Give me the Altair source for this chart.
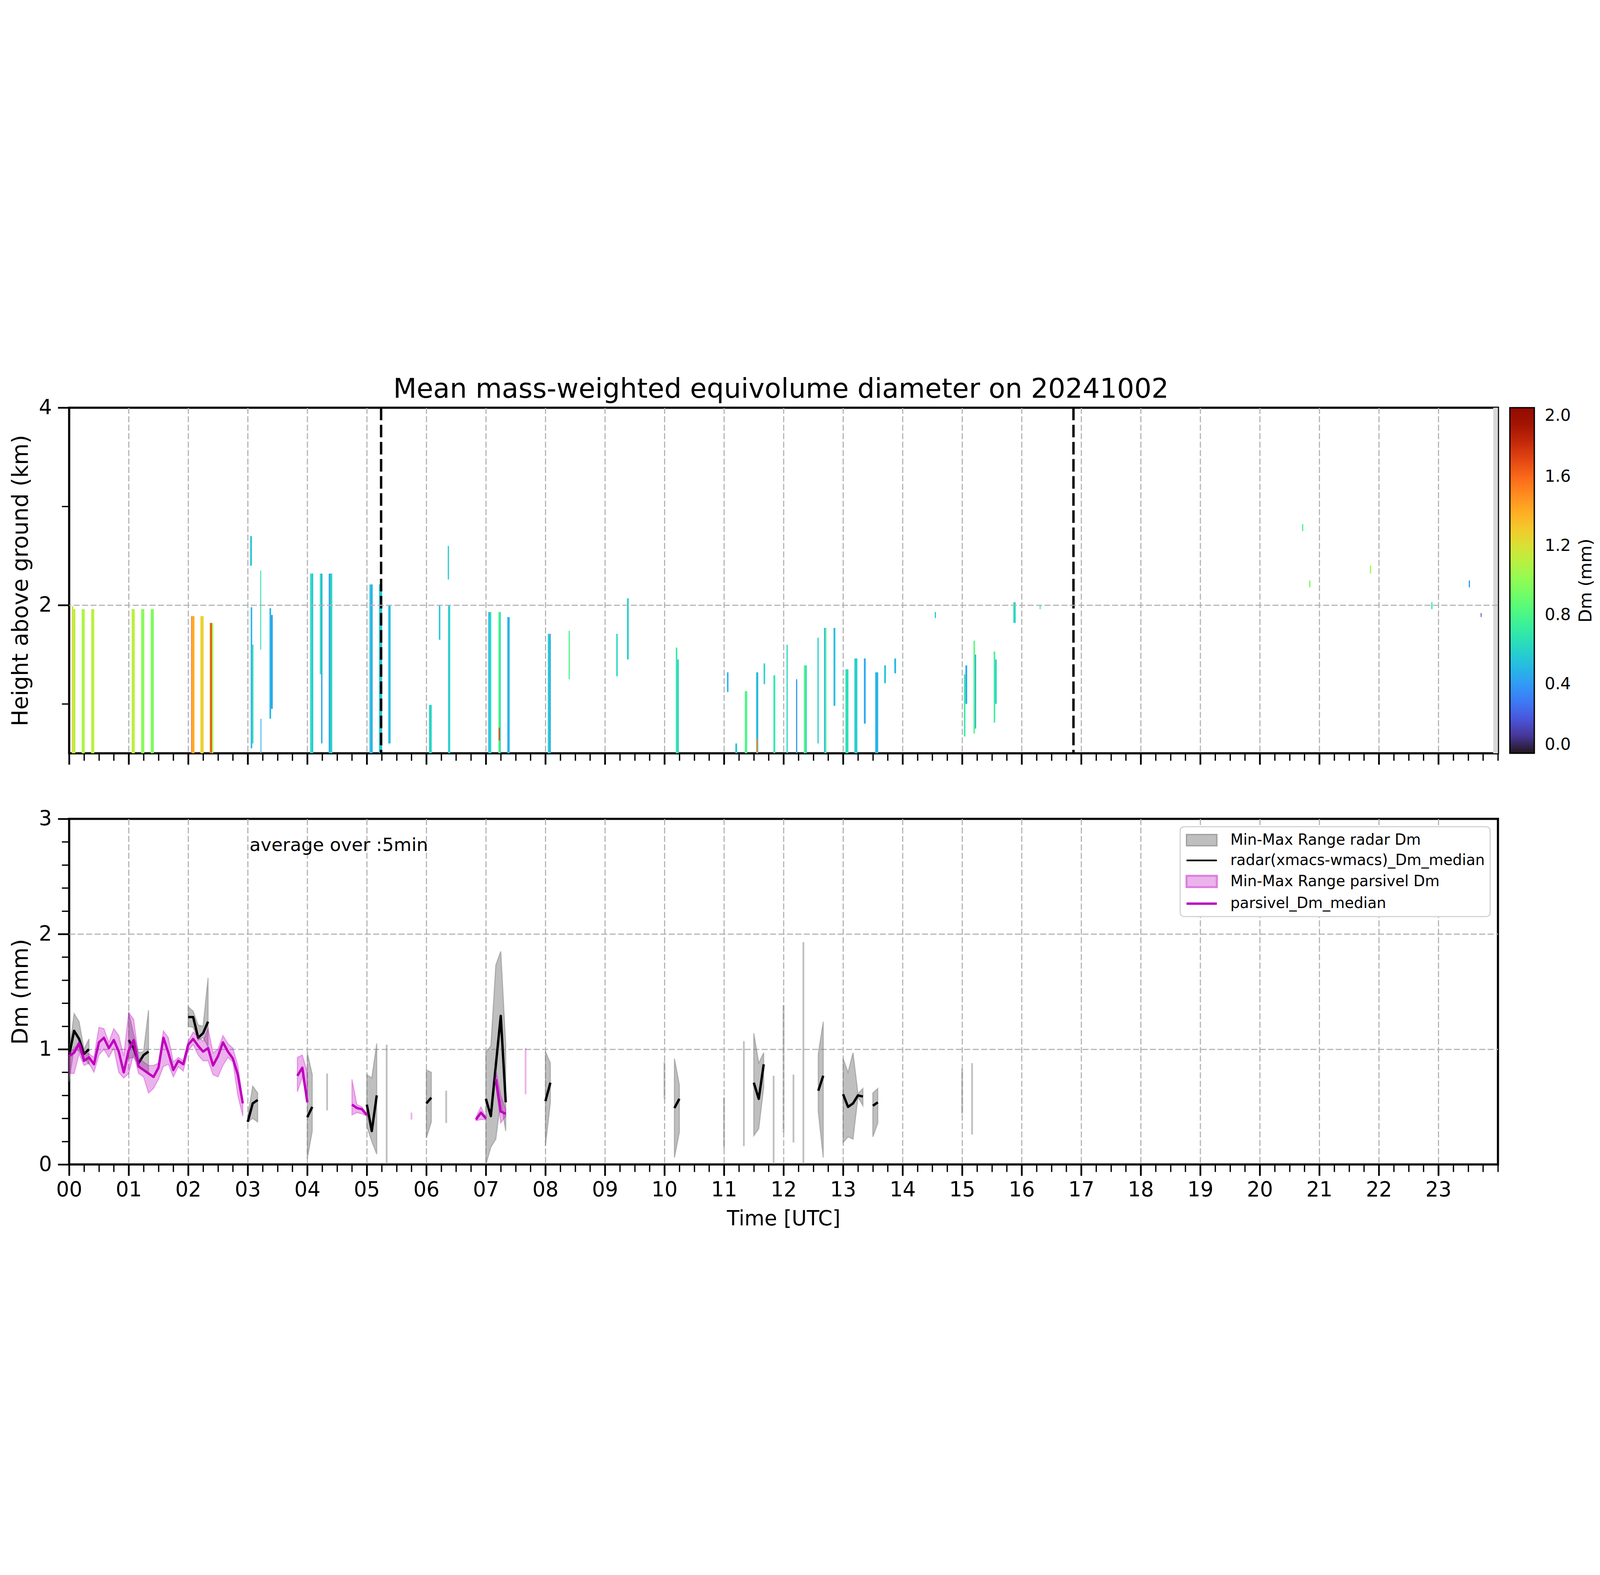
import altair as alt
import pandas as pd

FONT = "DejaVu Sans"
TITLE = "Mean mass-weighted equivolume diameter on 20241002"

# ---------------- axes / ticks ----------------
hour_ticks = list(range(24))
hour_grid = list(range(1, 24))
hour_labels = ["00", "01", "02", "03", "04", "05", "06", "07", "08", "09", "10", "11",
               "12", "13", "14", "15", "16", "17", "18", "19", "20", "21", "22", "23"]
quarter_ticks = [i * 0.25 for i in range(97)]
top_major = [2, 4]
top_minor = [1, 3]
top_grid = [2]
bot_major = [0, 1, 2, 3]
bot_minor = [0.2, 0.4, 0.6, 0.8, 1.2, 1.4, 1.6, 1.8, 2.2, 2.4, 2.6, 2.8]
bot_grid = [1, 2]
cbar_ticks = [0.0, 0.4, 0.8, 1.2, 1.6, 2.0]
cbar_title = "Dm (mm)"

# ---------------- top panel: radar Dm columns (start h, end h, bottom km, top km, Dm mm) ----------------
cols_00_02 = [
    (0.045, 0.070, 0.50, 1.99, 1.22), (0.070, 0.105, 0.50, 1.96, 1.10),
    (0.210, 0.262, 0.50, 1.96, 1.08), (0.370, 0.422, 0.50, 1.96, 1.12),
    (1.050, 1.102, 0.50, 1.96, 1.12), (1.210, 1.262, 0.50, 1.96, 0.98),
    (1.370, 1.422, 0.50, 1.96, 0.95),
    (2.050, 2.064, 0.50, 1.89, 1.62), (2.064, 2.105, 0.50, 1.89, 1.40),
    (2.205, 2.258, 0.50, 1.89, 1.27), (2.360, 2.375, 0.50, 1.82, 1.45),
    (2.375, 2.395, 0.50, 1.82, 1.72), (2.395, 2.420, 0.50, 1.82, 1.05),
]
cols_03_06 = [
    (3.040, 3.070, 2.40, 2.70, 0.55), (3.050, 3.075, 0.55, 1.98, 0.48),
    (3.075, 3.095, 0.60, 1.60, 0.62), (3.210, 3.225, 1.55, 2.35, 0.65),
    (3.215, 3.228, 0.50, 0.85, 0.45), (3.365, 3.392, 0.85, 1.97, 0.50),
    (3.392, 3.420, 0.95, 1.90, 0.42),
    (4.048, 4.070, 0.50, 2.32, 0.65), (4.070, 4.100, 0.50, 2.32, 0.55),
    (4.210, 4.232, 1.30, 2.32, 0.70), (4.232, 4.255, 0.60, 2.32, 0.45),
    (4.360, 4.390, 0.50, 2.32, 0.45), (4.390, 4.420, 0.50, 2.32, 0.62),
    (5.045, 5.070, 0.50, 2.21, 0.55), (5.070, 5.098, 0.50, 2.21, 0.45),
    (5.205, 5.258, 0.50, 2.21, 0.55), (5.360, 5.400, 0.60, 2.00, 0.52),
    (6.045, 6.090, 0.50, 0.99, 0.60), (6.210, 6.235, 1.65, 2.00, 0.55),
    (6.360, 6.380, 2.26, 2.60, 0.55), (6.365, 6.400, 0.50, 2.00, 0.58),
]
cols_07_10 = [
    (7.040, 7.065, 0.50, 1.93, 0.50), (7.065, 7.090, 0.50, 1.93, 0.62),
    (7.210, 7.230, 0.50, 1.93, 0.85), (7.230, 7.250, 0.50, 1.93, 0.62),
    (7.215, 7.235, 0.63, 0.76, 1.70), (7.360, 7.400, 0.50, 1.88, 0.48),
    (8.040, 8.065, 0.50, 1.71, 0.58), (8.065, 8.090, 0.50, 1.71, 0.45),
    (8.390, 8.410, 1.25, 1.74, 0.80),
    (9.190, 9.215, 1.28, 1.71, 0.62), (9.370, 9.400, 1.45, 2.07, 0.60),
    (10.190, 10.215, 0.50, 1.57, 0.72), (10.215, 10.240, 0.50, 1.45, 0.58),
]
cols_11_13 = [
    (11.050, 11.075, 1.12, 1.32, 0.48), (11.190, 11.220, 0.50, 0.60, 0.55),
    (11.350, 11.390, 0.50, 1.13, 0.80), (11.540, 11.575, 0.50, 1.32, 0.50),
    (11.545, 11.565, 0.50, 0.65, 1.50), (11.665, 11.690, 1.20, 1.41, 0.60),
    (11.830, 11.860, 0.50, 1.29, 0.70),
    (12.050, 12.070, 0.50, 1.60, 0.62), (12.210, 12.230, 0.50, 1.25, 0.40),
    (12.340, 12.365, 0.50, 1.39, 0.85), (12.365, 12.390, 0.50, 1.39, 0.60),
    (12.570, 12.590, 0.60, 1.67, 0.58), (12.680, 12.700, 0.50, 1.77, 0.45),
    (12.700, 12.720, 0.50, 1.77, 0.80), (12.840, 12.870, 0.98, 1.77, 0.52),
    (13.040, 13.090, 0.50, 1.35, 0.65), (13.190, 13.240, 0.50, 1.46, 0.58),
    (13.350, 13.380, 0.80, 1.46, 0.45), (13.540, 13.590, 0.50, 1.32, 0.48),
    (13.690, 13.720, 1.21, 1.39, 0.55), (13.860, 13.890, 1.31, 1.46, 0.50),
]
cols_14_24 = [
    (14.540, 14.560, 1.87, 1.93, 0.55),
    (15.030, 15.055, 0.67, 1.30, 0.72), (15.055, 15.085, 1.00, 1.39, 0.45),
    (15.190, 15.215, 0.70, 1.64, 0.85), (15.215, 15.235, 0.75, 1.50, 0.45),
    (15.530, 15.555, 0.81, 1.53, 0.75), (15.555, 15.580, 1.00, 1.45, 0.55),
    (15.860, 15.900, 1.82, 2.03, 0.62), (16.300, 16.320, 1.96, 2.00, 0.80),
    (20.710, 20.730, 2.75, 2.82, 0.78), (20.830, 20.850, 2.18, 2.25, 0.95),
    (21.850, 21.870, 2.32, 2.40, 1.05), (22.880, 22.900, 1.96, 2.03, 0.70),
    (23.510, 23.530, 2.18, 2.25, 0.40), (23.710, 23.725, 1.88, 1.92, 0.20),
]
nodata_strip = [(23.92, 24.0, 0.5, 4.0)]
marker_times = [5.24, 16.87]

# ---------------- bottom panel: 5-min radar Dm (minute, median, min, max) ----------------
radar_0000 = [(0, 0.95, 0.72, 0.98), (5, 1.16, 1.02, 1.31), (10, 1.09, 0.98, 1.24), (15, 0.96, 0.93, 1.00), (20, 1.00, 0.87, 1.09)]
radar_0100 = [(60, 1.08, 0.92, 1.32), (65, 1.01, 0.93, 1.13), (70, 0.88, 0.87, 0.97), (75, 0.95, 0.82, 0.98), (80, 0.98, 0.80, 1.34)]
radar_0200 = [(120, 1.28, 1.20, 1.37), (125, 1.28, 1.19, 1.33), (130, 1.10, 1.08, 1.21), (135, 1.14, 1.10, 1.20), (140, 1.24, 1.02, 1.62)]
radar_0300 = [(180, 0.37, 0.37, 0.42), (185, 0.53, 0.40, 0.68), (190, 0.56, 0.37, 0.62)]
radar_0400 = [(240, 0.41, 0.05, 0.97), (245, 0.50, 0.29, 0.78)]
radar_0500 = [(300, 0.52, 0.33, 0.78), (305, 0.29, 0.20, 0.75), (310, 0.60, 0.09, 1.05)]
radar_0600 = [(360, 0.53, 0.23, 0.82), (365, 0.58, 0.37, 0.80)]
radar_0700 = [(420, 0.57, 0.00, 0.97), (425, 0.42, 0.15, 1.03), (430, 0.86, 0.22, 1.73), (435, 1.29, 0.56, 1.85), (440, 0.54, 0.29, 1.04)]
radar_0800 = [(480, 0.55, 0.16, 0.98), (485, 0.71, 0.54, 0.88)]
radar_1010 = [(610, 0.49, 0.06, 0.92), (615, 0.57, 0.28, 0.69)]
radar_1130 = [(690, 0.71, 0.25, 1.14), (695, 0.57, 0.31, 0.88), (700, 0.87, 0.67, 0.97)]
radar_1235 = [(755, 0.64, 0.46, 0.96), (760, 0.77, 0.06, 1.24)]
radar_1300 = [(780, 0.61, 0.19, 0.92), (785, 0.50, 0.24, 0.80), (790, 0.53, 0.22, 0.97), (795, 0.60, 0.585, 0.615), (800, 0.59, 0.51, 0.66)]
radar_1330 = [(810, 0.51, 0.24, 0.62), (815, 0.54, 0.36, 0.66)]
radar_single = [(260, 0.47, 0.79), (320, 0.00, 1.04), (380, 0.36, 0.64), (600, 0.57, 0.89),
                (660, 0.14, 0.58), (680, 0.16, 1.07), (710, 0.00, 0.77), (720, 0.28, 1.38),
                (730, 0.19, 0.78), (740, 0.00, 1.93), (900, 0.44, 0.83), (910, 0.26, 0.88)]

# ---------------- bottom panel: 5-min parsivel Dm ----------------
pars_0000_min = [0, 5, 10, 15, 20, 25, 30, 35, 40, 45, 50, 55, 60, 65, 70, 75, 80, 85,
                 90, 95, 100, 105, 110, 115, 120, 125, 130, 135, 140, 145, 150, 155, 160, 165, 170, 175]
pars_0000_med = [0.94, 0.97, 1.05, 0.90, 0.93, 0.87, 1.06, 1.10, 1.01, 1.08, 0.98, 0.80, 0.99, 1.08, 0.85, 0.82, 0.79, 0.76,
                 0.84, 1.10, 0.97, 0.82, 0.90, 0.87, 1.04, 1.09, 1.03, 0.98, 1.01, 0.86, 0.94, 1.06, 0.98, 0.92, 0.78, 0.53]
pars_0000_lo = [0.79, 0.79, 0.96, 0.86, 0.88, 0.80, 0.95, 1.00, 0.93, 1.01, 0.80, 0.75, 0.79, 0.96, 0.79, 0.76, 0.62, 0.66,
                0.74, 0.85, 0.87, 0.76, 0.85, 0.81, 0.99, 1.04, 0.95, 0.90, 0.90, 0.78, 0.76, 0.86, 0.93, 0.89, 0.60, 0.42]
pars_0000_hi = [0.97, 1.00, 1.07, 0.98, 0.96, 0.93, 1.19, 1.18, 1.06, 1.18, 1.12, 0.94, 1.32, 1.26, 0.93, 0.89, 0.86, 0.86,
                0.88, 1.16, 1.10, 0.89, 0.93, 0.90, 1.07, 1.15, 1.11, 1.07, 1.18, 0.97, 1.00, 1.12, 1.05, 1.01, 0.86, 0.55]
pars_0350 = [(230, 0.77, 0.63, 0.93), (235, 0.84, 0.76, 0.95), (240, 0.54, 0.54, 0.80)]
pars_0445 = [(285, 0.52, 0.43, 0.74), (290, 0.49, 0.45, 0.52), (295, 0.48, 0.44, 0.50), (300, 0.43, 0.42, 0.44)]
pars_0650 = [(410, 0.39, 0.38, 0.41), (415, 0.45, 0.39, 0.50), (420, 0.40, 0.39, 0.41)]
pars_0710 = [(430, 0.74, 0.70, 0.82), (435, 0.46, 0.36, 0.60), (440, 0.44, 0.42, 0.48)]
pars_single = [(345, 0.39, 0.45), (460, 0.61, 1.01)]

legend_labels = ["Min-Max Range radar Dm", "radar(xmacs-wmacs)_Dm_median",
                 "Min-Max Range parsivel Dm", "parsivel_Dm_median"]
note_text = "average over :5min"
note_pos = (3.03, 2.72)

# ---------------- build tables ----------------
top_rows = []
for block in (cols_00_02, cols_03_06, cols_07_10, cols_11_13, cols_14_24):
    for t0, t1, h0, h1, dm in block:
        top_rows.append({"t0": t0, "t1": t1, "h0": h0, "h1": h1, "dm": dm})
top_df = pd.DataFrame(top_rows)
strip_df = pd.DataFrame([{"t0": a, "t1": b, "h0": c, "h1": d} for a, b, c, d in nodata_strip])
marker_df = pd.DataFrame({"t": marker_times})

radar_rows = []
for i, seg in enumerate([radar_0000, radar_0100, radar_0200, radar_0300, radar_0400, radar_0500, radar_0600,
                         radar_0700, radar_0800, radar_1010, radar_1130, radar_1235, radar_1300, radar_1330]):
    for m, med, lo, hi in seg:
        radar_rows.append({"t": m / 60, "med": med, "lo": lo, "hi": hi, "seg": f"r{i}"})
radar_df = pd.DataFrame(radar_rows)
radar_single_df = pd.DataFrame([{"t": m / 60, "lo": lo, "hi": hi} for m, lo, hi in radar_single])

pars_rows = [{"t": m / 60, "med": a, "lo": b, "hi": c, "seg": "p0"}
             for m, a, b, c in zip(pars_0000_min, pars_0000_med, pars_0000_lo, pars_0000_hi)]
for i, seg in enumerate([pars_0350, pars_0445, pars_0650, pars_0710]):
    for m, med, lo, hi in seg:
        pars_rows.append({"t": m / 60, "med": med, "lo": lo, "hi": hi, "seg": f"p{i + 1}"})
pars_df = pd.DataFrame(pars_rows)
pars_single_df = pd.DataFrame([{"t": m / 60, "lo": lo, "hi": hi} for m, lo, hi in pars_single])
note_df = pd.DataFrame({"t": [note_pos[0]], "v": [note_pos[1]], "s": [note_text]})
legend_df = pd.DataFrame({"series": legend_labels, "lx": [None] * 4, "ly": [None] * 4})

# ---------------- styling ----------------
W, H = 6600, 1596
GRID = "#b0b0b0"
X_SCALE = alt.Scale(domain=[0, 24], nice=False, zero=False)
YT_SCALE = alt.Scale(domain=[0.5, 4], nice=False, zero=False)
YB_SCALE = alt.Scale(domain=[0, 3], nice=False, zero=False)
label_expr = "[" + ",".join(f"'{s}'" for s in hour_labels) + "][datum.value]"


def x_major(show_labels):
    return alt.Axis(orient="bottom", values=hour_ticks, labels=show_labels, labelExpr=label_expr,
                    labelFontSize=95, labelPadding=20, labelFlush=False, labelOverlap=False,
                    tickSize=52, tickWidth=8, grid=False, domain=False, titleFontSize=95,
                    titlePadding=40, titleFontWeight="normal")


x_minor = alt.Axis(orient="bottom", values=quarter_ticks, labels=False, tickSize=34, tickWidth=6,
                   grid=False, domain=False, title=None)


def x_grid(z):
    return alt.Axis(orient="bottom", values=hour_grid, labels=False, ticks=False, domain=False,
                    grid=True, gridColor=GRID, gridDash=[28, 11], gridWidth=5, title=None, zindex=z)


def y_major(vals):
    return alt.Axis(orient="left", values=vals, labelFontSize=95, labelPadding=28, labelFlush=False,
                    tickSize=52, tickWidth=8, grid=False, domain=False, titleFontSize=102,
                    titlePadding=30, titleFontWeight="normal")


def y_minor(vals):
    return alt.Axis(orient="left", values=vals, labels=False, tickSize=34, tickWidth=6,
                    grid=False, domain=False, title=None)


# ---------------- top panel ----------------
cbar_legend = alt.Legend(orient="none", legendX=W + 55, legendY=0, direction="vertical", gradientLength=H,
                         gradientThickness=113, gradientStrokeColor="black", gradientStrokeWidth=6,
                         values=cbar_ticks, format=".1f", labelFontSize=76, labelOffset=48,
                         labelBaseline="middle", labelOverlap=False, labelFont=FONT, labelColor="black",
                         title=None)

cells = alt.Chart(top_df).mark_rect().encode(
    x=alt.X("t0:Q", scale=X_SCALE, axis=x_major(False), title=None),
    x2="t1:Q",
    y=alt.Y("h0:Q", scale=YT_SCALE, axis=y_major(top_major), title="Height above ground (km)"),
    y2="h1:Q",
    color=alt.Color("dm:Q", scale=alt.Scale(scheme="turbo", domain=[0, 2], clamp=True),
                    legend=cbar_legend, title=None),
)
strip = alt.Chart(strip_df).mark_rect(color="#d9d9d9").encode(
    x=alt.X("t0:Q", scale=X_SCALE, axis=x_minor),
    x2="t1:Q",
    y=alt.Y("h0:Q", scale=YT_SCALE, axis=y_minor(top_minor)),
    y2="h1:Q",
)
cbar_axis = alt.Axis(orient="right", values=top_grid, labels=False, ticks=False, domain=False,
                     grid=True, gridColor=GRID, gridDash=[28, 11], gridWidth=5, zindex=1,
                     titleX=407, titleY=H / 2, titleAngle=270, titleAlign="center",
                     titleBaseline="middle", titleFontSize=81, titleFontWeight="normal")
cbar_title_layer = alt.Chart(strip_df).mark_rect(opacity=0).encode(
    x=alt.X("t0:Q", scale=X_SCALE, axis=x_grid(1)),
    x2="t1:Q",
    y=alt.Y("h0:Q", scale=YT_SCALE, axis=cbar_axis, title=cbar_title),
    y2="h1:Q",
)
markers = alt.Chart(marker_df).mark_rule(color="black", strokeWidth=11, strokeDash=[58, 21]).encode(
    x=alt.X("t:Q", scale=X_SCALE, axis=None)
)
top = alt.layer(cbar_title_layer, cells, strip, markers).resolve_axis(
    x="independent", y="independent").properties(width=W, height=H)

# ---------------- bottom panel ----------------
grid_layer = alt.Chart(note_df).mark_point(opacity=0).encode(
    x=alt.X("t:Q", scale=X_SCALE, axis=x_grid(0)),
    y=alt.Y("v:Q", scale=YB_SCALE,
            axis=alt.Axis(orient="left", values=bot_grid, labels=False, ticks=False, domain=False,
                          grid=True, gridColor=GRID, gridDash=[28, 11], gridWidth=5, title=None)),
)
radar_band = alt.Chart(radar_df).mark_area(fill="#808080", fillOpacity=0.5, stroke="#808080",
                                            strokeOpacity=0.5, strokeWidth=5).encode(
    x=alt.X("t:Q", scale=X_SCALE, axis=x_major(True), title="Time [UTC]"),
    y=alt.Y("lo:Q", scale=YB_SCALE, axis=y_major(bot_major), title="Dm (mm)"),
    y2="hi:Q",
    detail="seg:N",
)
radar_tick = alt.Chart(radar_single_df).mark_rule(color="#808080", opacity=0.5, strokeWidth=8).encode(
    x=alt.X("t:Q", scale=X_SCALE, axis=x_minor),
    y=alt.Y("lo:Q", scale=YB_SCALE, axis=y_minor(bot_minor)),
    y2="hi:Q",
)
radar_line = alt.Chart(radar_df).mark_line(color="black", strokeWidth=11, strokeJoin="round").encode(
    x=alt.X("t:Q", scale=X_SCALE, axis=None),
    y=alt.Y("med:Q", scale=YB_SCALE, axis=None),
    detail="seg:N",
)
pars_band = alt.Chart(pars_df).mark_area(fill="#bf00bf", fillOpacity=0.3, stroke="#bf00bf",
                                          strokeOpacity=0.3, strokeWidth=5).encode(
    x=alt.X("t:Q", scale=X_SCALE, axis=None),
    y=alt.Y("lo:Q", scale=YB_SCALE, axis=None),
    y2="hi:Q",
    detail="seg:N",
)
pars_tick = alt.Chart(pars_single_df).mark_rule(color="#bf00bf", opacity=0.3, strokeWidth=8).encode(
    x=alt.X("t:Q", scale=X_SCALE, axis=None),
    y=alt.Y("lo:Q", scale=YB_SCALE, axis=None),
    y2="hi:Q",
)
pars_line = alt.Chart(pars_df).mark_line(color="#bf00bf", strokeWidth=11, strokeJoin="round").encode(
    x=alt.X("t:Q", scale=X_SCALE, axis=None),
    y=alt.Y("med:Q", scale=YB_SCALE, axis=None),
    detail="seg:N",
)
note = alt.Chart(note_df).mark_text(align="left", baseline="alphabetic", fontSize=84, font=FONT,
                                    color="black").encode(
    x=alt.X("t:Q", scale=X_SCALE, axis=None),
    y=alt.Y("v:Q", scale=YB_SCALE, axis=None),
    text="s:N",
)

LEG = alt.Legend(orient="top-right", offset=36, padding=24, fillColor="white", strokeColor="#d0d0d0",
                 cornerRadius=18, labelFontSize=69, labelFont=FONT, labelColor="black", labelLimit=3000,
                 symbolSize=4900, symbolOffset=35, labelOffset=92, rowPadding=17, title=None)
band_path = "M-2,-0.74L2,-0.74L2,0.74L-2,0.74Z"
line_path = "M-2,0L2,0"
legend_layer = alt.Chart(legend_df).mark_point(filled=True, opacity=1).encode(
    x=alt.X("lx:Q", scale=X_SCALE, axis=None),
    y=alt.Y("ly:Q", scale=YB_SCALE, axis=None),
    shape=alt.Shape("series:N", scale=alt.Scale(domain=legend_labels,
                    range=[band_path, line_path, band_path, line_path]), legend=LEG, title=None),
    fill=alt.Fill("series:N", scale=alt.Scale(domain=legend_labels,
                  range=["#bfbfbf", "black", "#ebb3eb", "#bf00bf"]), legend=LEG, title=None),
    stroke=alt.Stroke("series:N", scale=alt.Scale(domain=legend_labels,
                      range=["#a0a0a0", "black", "#de80de", "#bf00bf"]), legend=LEG, title=None),
    strokeWidth=alt.StrokeWidth("series:N", scale=alt.Scale(domain=legend_labels,
                                range=[6, 11, 6, 11]), legend=LEG, title=None),
)

bottom = alt.layer(grid_layer, radar_band, radar_tick, radar_line, pars_band, pars_tick, pars_line, note,
                   legend_layer).resolve_axis(x="independent", y="independent").properties(width=W, height=H)

chart = alt.vconcat(top, bottom, spacing=190).resolve_scale(
    color="independent", fill="independent", stroke="independent", shape="independent",
    strokeWidth="independent",
).properties(
    title=alt.TitleParams(TITLE, fontSize=125, fontWeight="normal", font=FONT, anchor="middle",
                          offset=-32, dx=-12, color="black", frame="group"),
    padding={"left": 26, "top": 95, "right": 5, "bottom": 5},
).configure(font=FONT).configure_view(stroke="black", strokeWidth=10).configure_axis(
    labelFont=FONT, titleFont=FONT, labelColor="black", titleColor="black", tickColor="black"
).configure_legend(strokeWidth=5)

chart.save("out.html", embed_options={"renderer": "svg", "actions": False})
